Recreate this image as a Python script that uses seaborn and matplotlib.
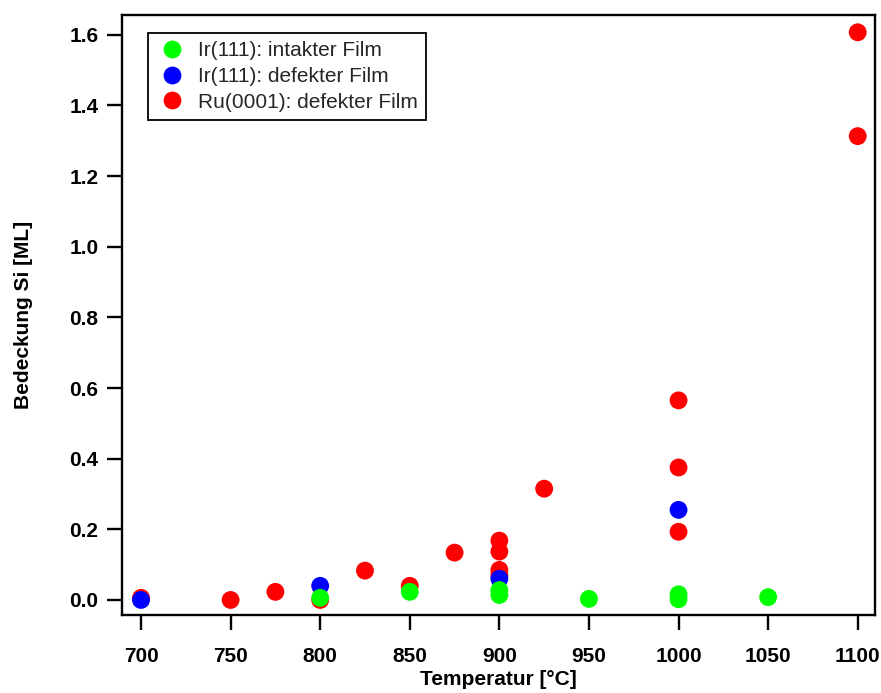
import matplotlib
matplotlib.use("Agg")
import matplotlib.pyplot as plt
import seaborn as sns
import pandas as pd

# Data (drawing order: red, blue, green so green sits on top)
ru_temp = [700, 750, 775, 800, 825, 850, 875, 900, 900, 900, 900, 925, 1000, 1000, 1000, 1100, 1100]
ru_cov = [0.006, 0.0, 0.023, 0.0, 0.083, 0.040, 0.134, 0.168, 0.137, 0.085, 0.07, 0.315, 0.565, 0.375, 0.193, 1.607, 1.313]

ir_def_temp = [700, 800, 900, 1000]
ir_def_cov = [0.0, 0.040, 0.060, 0.255]

ir_int_temp = [800, 850, 900, 900, 950, 1000, 1000, 1050]
ir_int_cov = [0.006, 0.023, 0.028, 0.014, 0.003, 0.016, 0.002, 0.008]

labels = ["Ir(111): intakter Film", "Ir(111): defekter Film", "Ru(0001): defekter Film"]
colors = ["#00FF00", "#0000FF", "#FF0000"]

x_ticks = [700, 750, 800, 850, 900, 950, 1000, 1050, 1100]
y_ticks = [0.0, 0.2, 0.4, 0.6, 0.8, 1.0, 1.2, 1.4, 1.6]

df = pd.concat([
    pd.DataFrame({"T": ru_temp, "cov": ru_cov, "serie": labels[2]}),
    pd.DataFrame({"T": ir_def_temp, "cov": ir_def_cov, "serie": labels[1]}),
    pd.DataFrame({"T": ir_int_temp, "cov": ir_int_cov, "serie": labels[0]}),
], ignore_index=True)

sns.set_theme(style="white")
plt.rcParams["font.family"] = ["Liberation Sans", "DejaVu Sans"]

fig = plt.figure(figsize=(8.81, 6.93), dpi=100)
ax = fig.add_axes([0.1385, 0.1126, 0.9937 - 0.1385, 0.9784 - 0.1126])

sns.scatterplot(data=df, x="T", y="cov", hue="serie", hue_order=labels,
                palette=dict(zip(labels, colors)), s=165, linewidth=0,
                edgecolor="none", ax=ax, legend=True)

ax.set_xlim(689.4, 1109.9)
ax.set_ylim(-0.0425, 1.656)
ax.set_xticks(x_ticks)
ax.set_xticklabels([str(v) for v in x_ticks])
ax.set_yticks(y_ticks)
ax.set_yticklabels([f"{v:.1f}" for v in y_ticks])

for sp in ax.spines.values():
    sp.set_visible(True)
    sp.set_color("black")
    sp.set_linewidth(1.7)

ax.tick_params(axis="both", direction="out", length=11, width=1.7, color="black",
               labelsize=15, bottom=True, left=True)
ax.tick_params(axis="x", pad=12)
ax.tick_params(axis="y", pad=6)
for lab in ax.get_xticklabels() + ax.get_yticklabels():
    lab.set_fontweight("bold")
    lab.set_color("black")

ax.set_xlabel("Temperatur [°C]", fontsize=15, fontweight="bold", color="black", labelpad=3)
ax.set_ylabel("Bedeckung Si [ML]", fontsize=15, fontweight="bold", color="black", labelpad=26)

leg = ax.legend(loc="upper left", bbox_to_anchor=(0.0345, 0.97), borderaxespad=0,
                fontsize=15, frameon=True, fancybox=False, handletextpad=0.5,
                labelspacing=0.32, borderpad=0.4, markerscale=1.0, handlelength=1.5)
leg.get_frame().set_edgecolor("black")
leg.get_frame().set_linewidth(1.3)
leg.get_frame().set_alpha(1)

fig.savefig("out.png", dpi=100)
